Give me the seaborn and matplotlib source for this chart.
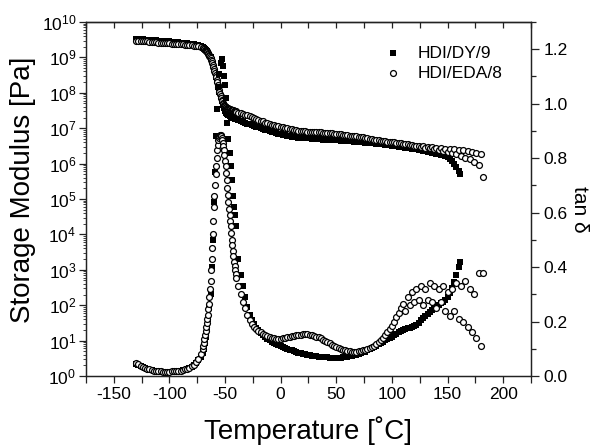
import numpy as np
import matplotlib
matplotlib.use("Agg")
import matplotlib.pyplot as plt
from matplotlib.ticker import MultipleLocator, LogLocator, NullFormatter, FormatStrFormatter
import seaborn as sns

# ---------------------------------------------------------------------------
# DMA data: temperature [°C], log10 of storage modulus [Pa] and tan delta
# ---------------------------------------------------------------------------

# HDI/DY/9 (filled squares)
temp_dy = [
    -130, -128, -126, -124, -122, -120, -118, -116, -114, -112,
    -110, -108, -106, -104, -102, -100, -98, -96, -94, -92,
    -90, -88, -86, -84, -82, -80, -78, -76, -74, -72,
    -70, -69, -68, -67, -66, -65, -64, -63, -62, -61,
    -60, -59, -58, -57, -56, -55, -54, -53, -52, -51,
    -50, -49, -48, -47, -46, -45, -44, -43, -42, -41,
    -40,
    -38, -36, -34, -32, -30, -28, -26, -24, -22, -20,
    -18, -16, -14, -12, -10, -8, -6, -4, -2, 0,
    2, 4, 6, 8, 10, 12, 14, 16, 18, 20,
    22, 24, 26, 28, 30, 32, 34, 36, 38, 40,
    42, 44, 46, 48, 50, 52, 54, 56, 58, 60,
    62, 64, 66, 68, 70, 72, 74, 76, 78, 80,
    82, 84, 86, 88, 90, 92, 94, 96, 98, 100,
    102, 104, 106, 108, 110, 112, 114, 116, 118, 120,
    122, 124, 126, 128, 130, 132, 134, 136, 138, 140,
    142, 144, 146, 148, 150, 152, 154, 156, 158, 160,
    161,
]
log_modulus_dy = [
    9.52, 9.52, 9.51, 9.51, 9.50, 9.50, 9.49, 9.49, 9.48, 9.48,
    9.47, 9.47, 9.46, 9.46, 9.45, 9.45, 9.44, 9.44, 9.43, 9.43,
    9.42, 9.41, 9.41, 9.40, 9.39, 9.38, 9.37, 9.35, 9.34, 9.32,
    9.29, 9.27, 9.25, 9.22, 9.18, 9.13, 9.07, 9.00, 8.92, 8.82,
    8.71, 8.59, 8.46, 8.32, 8.17, 8.02, 7.88, 7.76, 7.65, 7.56,
    7.49, 7.44, 7.40, 7.37, 7.35, 7.33, 7.31, 7.29, 7.28, 7.27,
    7.26,
    7.23, 7.21, 7.18, 7.16, 7.13, 7.11, 7.09, 7.06, 7.04, 7.02,
    7.00, 6.98, 6.96, 6.94, 6.92, 6.90, 6.88, 6.86, 6.85, 6.83,
    6.82, 6.80, 6.79, 6.77, 6.76, 6.75, 6.74, 6.73, 6.73, 6.72,
    6.72, 6.71, 6.71, 6.70, 6.70, 6.70, 6.69, 6.69, 6.68, 6.68,
    6.68, 6.67, 6.67, 6.66, 6.66, 6.66, 6.65, 6.65, 6.64, 6.64,
    6.63, 6.63, 6.62, 6.62, 6.61, 6.60, 6.60, 6.59, 6.59, 6.58,
    6.57, 6.57, 6.56, 6.55, 6.55, 6.54, 6.53, 6.52, 6.52, 6.51,
    6.50, 6.49, 6.48, 6.47, 6.46, 6.45, 6.44, 6.43, 6.42, 6.41,
    6.40, 6.39, 6.38, 6.36, 6.35, 6.34, 6.32, 6.31, 6.29, 6.28,
    6.26, 6.25, 6.23, 6.21, 6.18, 6.14, 6.08, 6.00, 5.90, 5.78,
    5.72,
]
tan_delta_dy = [
    0.045, 0.040, 0.036, 0.032, 0.028, 0.025, 0.023, 0.021, 0.019, 0.018,
    0.017, 0.016, 0.015, 0.015, 0.015, 0.015, 0.016, 0.016, 0.017, 0.018,
    0.019, 0.021, 0.023, 0.025, 0.028, 0.033, 0.039, 0.047, 0.057, 0.070,
    0.085, 0.100, 0.120, 0.145, 0.175, 0.210, 0.250, 0.300, 0.400, 0.500,
    0.640, 0.750, 0.880, 0.980, 1.060, 1.110, 1.150, 1.165, 1.140, 1.100,
    1.070, 1.020, 0.930, 0.870, 0.820, 0.770, 0.720, 0.660, 0.620, 0.590,
    0.550,
    0.430, 0.370, 0.330, 0.290, 0.255, 0.225, 0.205, 0.190, 0.178, 0.168,
    0.158, 0.150, 0.143, 0.137, 0.131, 0.126, 0.121, 0.117, 0.113, 0.109,
    0.106, 0.103, 0.100, 0.097, 0.094, 0.091, 0.088, 0.086, 0.084, 0.082,
    0.080, 0.078, 0.076, 0.075, 0.073, 0.072, 0.071, 0.070, 0.069, 0.068,
    0.068, 0.067, 0.067, 0.067, 0.067, 0.067, 0.067, 0.068, 0.069, 0.070,
    0.072, 0.074, 0.076, 0.078, 0.081, 0.084, 0.087, 0.090, 0.094, 0.098,
    0.102, 0.106, 0.111, 0.116, 0.121, 0.126, 0.131, 0.136, 0.141, 0.145,
    0.150, 0.155, 0.160, 0.165, 0.169, 0.173, 0.176, 0.178, 0.180, 0.182,
    0.188, 0.196, 0.204, 0.212, 0.220, 0.228, 0.236, 0.244, 0.250, 0.256,
    0.262, 0.267, 0.272, 0.280, 0.290, 0.305, 0.325, 0.345, 0.370, 0.400,
    0.420,
]

# HDI/EDA/8 (open circles)
temp_eda = [
    -130, -128, -126, -124, -122, -120, -118, -116, -114, -112,
    -110, -108, -106, -104, -102, -100, -98, -96, -94, -92,
    -90, -88, -86, -84, -82, -80, -78, -76, -74, -72,
    -70, -69.5, -69, -68.5, -68, -67.5, -67, -66.5, -66, -65.5,
    -65, -64.5, -64, -63.5, -63, -62.5, -62, -61.5, -61, -60.5,
    -60, -59.5, -59, -58.5, -58, -57.5, -57, -56.5, -56, -55.5,
    -55, -54.5, -54, -53.5, -53, -52.5, -52, -51.5, -51, -50.5,
    -50, -49.5, -49, -48.5, -48, -47.5, -47, -46.5, -46, -45.5,
    -45, -44.5, -44, -43.5, -43, -42.5, -42, -41.5, -41, -40.5,
    -40,
    -38, -36, -34, -32, -30, -28, -26, -24, -22, -20,
    -18, -16, -14, -12, -10, -8, -6, -4, -2, 0,
    2, 4, 6, 8, 10, 12, 14, 16, 18, 20,
    22, 24, 26, 28, 30, 32, 34, 36, 38, 40,
    42, 44, 46, 48, 50, 52, 54, 56, 58, 60,
    62, 64, 66, 68, 70, 72, 74, 76, 78, 80,
    82, 84, 86, 88, 90, 92, 94, 96, 98, 100,
    102, 104, 106, 108, 110, 112, 114, 116, 118, 120,
    122, 124, 126, 128, 130, 132, 134, 136, 138, 140,
    142, 144, 146, 148, 150, 152, 154, 156, 158, 160,
    162, 164, 166, 168, 170, 172, 174, 176, 178, 180,
    182,
]
log_modulus_eda = [
    9.47, 9.47, 9.46, 9.46, 9.45, 9.45, 9.44, 9.44, 9.43, 9.43,
    9.42, 9.42, 9.41, 9.41, 9.40, 9.40, 9.39, 9.39, 9.38, 9.38,
    9.37, 9.37, 9.36, 9.36, 9.35, 9.34, 9.33, 9.32, 9.31, 9.29,
    9.27, 9.26, 9.25, 9.24, 9.22, 9.21, 9.19, 9.17, 9.15, 9.13,
    9.10, 9.07, 9.04, 9.01, 8.97, 8.93, 8.89, 8.84, 8.79, 8.74,
    8.68, 8.62, 8.56, 8.50, 8.44, 8.37, 8.30, 8.23, 8.16, 8.09,
    8.02, 7.96, 7.90, 7.85, 7.80, 7.76, 7.72, 7.69, 7.66, 7.64,
    7.62, 7.60, 7.59, 7.58, 7.57, 7.56, 7.55, 7.54, 7.54, 7.53,
    7.52, 7.52, 7.51, 7.51, 7.50, 7.50, 7.49, 7.49, 7.48, 7.48,
    7.47,
    7.44, 7.42, 7.40, 7.38, 7.36, 7.34, 7.31, 7.29, 7.26, 7.24,
    7.21, 7.19, 7.16, 7.14, 7.12, 7.10, 7.08, 7.07, 7.05, 7.04,
    7.03, 7.01, 7.00, 6.99, 6.98, 6.96, 6.95, 6.93, 6.92, 6.91,
    6.91, 6.90, 6.90, 6.89, 6.89, 6.88, 6.88, 6.88, 6.87, 6.87,
    6.87, 6.86, 6.86, 6.85, 6.84, 6.84, 6.83, 6.82, 6.81, 6.80,
    6.79, 6.78, 6.77, 6.77, 6.76, 6.75, 6.74, 6.73, 6.71, 6.70,
    6.69, 6.68, 6.67, 6.66, 6.65, 6.64, 6.63, 6.62, 6.61, 6.60,
    6.60, 6.59, 6.58, 6.57, 6.56, 6.55, 6.54, 6.53, 6.52, 6.51,
    6.49, 6.51, 6.47, 6.49, 6.45, 6.48, 6.43, 6.46, 6.41, 6.44,
    6.39, 6.43, 6.36, 6.42, 6.33, 6.41, 6.30, 6.40, 6.26, 6.39,
    6.22, 6.38, 6.17, 6.36, 6.12, 6.34, 6.05, 6.31, 5.96, 6.27,
    5.62,
]
tan_delta_eda = [
    0.048, 0.043, 0.038, 0.034, 0.030, 0.027, 0.024, 0.022, 0.020, 0.019,
    0.018, 0.017, 0.016, 0.016, 0.016, 0.016, 0.017, 0.017, 0.018, 0.019,
    0.020, 0.022, 0.024, 0.026, 0.029, 0.035, 0.042, 0.052, 0.064, 0.080,
    0.100, 0.110, 0.120, 0.135, 0.150, 0.165, 0.180, 0.195, 0.210, 0.225,
    0.245, 0.265, 0.290, 0.320, 0.350, 0.390, 0.430, 0.470, 0.520, 0.570,
    0.620, 0.660, 0.700, 0.740, 0.770, 0.800, 0.830, 0.850, 0.865, 0.875,
    0.880, 0.885, 0.885, 0.880, 0.875, 0.865, 0.855, 0.845, 0.830, 0.810,
    0.790, 0.770, 0.745, 0.720, 0.690, 0.665, 0.640, 0.615, 0.590, 0.570,
    0.550, 0.525, 0.500, 0.480, 0.460, 0.440, 0.420, 0.405, 0.390, 0.375,
    0.360,
    0.330, 0.300, 0.270, 0.250, 0.225, 0.205, 0.190, 0.180, 0.172, 0.165,
    0.160, 0.155, 0.150, 0.146, 0.143, 0.140, 0.138, 0.137, 0.137, 0.137,
    0.138, 0.140, 0.142, 0.144, 0.146, 0.148, 0.150, 0.151, 0.152, 0.153,
    0.153, 0.153, 0.152, 0.150, 0.148, 0.145, 0.142, 0.138, 0.134, 0.130,
    0.125, 0.120, 0.115, 0.110, 0.106, 0.102, 0.099, 0.096, 0.094, 0.092,
    0.091, 0.090, 0.090, 0.090, 0.091, 0.092, 0.094, 0.096, 0.099, 0.103,
    0.107, 0.112, 0.118, 0.125, 0.132, 0.140, 0.150, 0.160, 0.172, 0.185,
    0.200, 0.215, 0.230, 0.250, 0.265, 0.240, 0.290, 0.260, 0.310, 0.270,
    0.320, 0.280, 0.330, 0.260, 0.320, 0.280, 0.340, 0.270, 0.330, 0.250,
    0.320, 0.270, 0.330, 0.240, 0.310, 0.220, 0.320, 0.240, 0.340, 0.210,
    0.330, 0.200, 0.350, 0.180, 0.320, 0.160, 0.300, 0.140, 0.380, 0.110,
    0.380,
]

series_labels = ["HDI/DY/9", "HDI/EDA/8"]

# ---------------------------------------------------------------------------
# Style
# ---------------------------------------------------------------------------
sns.set_style("ticks")
plt.rcParams["font.family"] = ["Liberation Sans", "DejaVu Sans"]
plt.rcParams["mathtext.fontset"] = "custom"
plt.rcParams["mathtext.rm"] = "Liberation Sans"
plt.rcParams["mathtext.it"] = "Liberation Sans:italic"
plt.rcParams["mathtext.bf"] = "Liberation Sans:bold"
plt.rcParams["axes.unicode_minus"] = False
plt.rcParams["text.color"] = "black"
plt.rcParams["axes.labelcolor"] = "black"
plt.rcParams["xtick.labelcolor"] = "black"
plt.rcParams["ytick.labelcolor"] = "black"

axis_color = "#222222"
tick_size = 12.5

fig = plt.figure(figsize=(6.03, 4.47), dpi=100)
ax = fig.add_axes([0.1426, 0.1588, 0.738, 0.792])
ax2 = ax.twinx()

square_kw = dict(marker="s", s=14, color="black", linewidth=0, legend=False)
circle_kw = dict(marker="o", s=18, color="white", edgecolor="black",
                 linewidth=0.9, legend=False)

# storage modulus on the left (log) axis
sns.scatterplot(x=temp_dy, y=10 ** np.array(log_modulus_dy), ax=ax, **square_kw)
sns.scatterplot(x=temp_eda, y=10 ** np.array(log_modulus_eda), ax=ax, **circle_kw)

# tan delta on the right axis
sns.scatterplot(x=temp_dy, y=tan_delta_dy, ax=ax2, **square_kw)
sns.scatterplot(x=temp_eda, y=tan_delta_eda, ax=ax2, **circle_kw)

# x axis
ax.set_xlim(-175, 225)
ax.xaxis.set_major_locator(MultipleLocator(50))
ax.xaxis.set_minor_locator(MultipleLocator(25))
ax.tick_params(axis="x", which="both", direction="out", length=5, width=0.9,
               color=axis_color, labelsize=tick_size, labelcolor="black", pad=3)

# top ticks pointing inward
top = ax.secondary_xaxis("top")
top.xaxis.set_major_locator(MultipleLocator(25))
top.xaxis.set_major_formatter(NullFormatter())
top.tick_params(axis="x", direction="in", length=4, width=0.9, color=axis_color)
top.spines["top"].set_color(axis_color)
top.spines["top"].set_linewidth(0.9)

# left log axis
ax.set_yscale("log")
ax.set_ylim(1, 1e10)
ax.yaxis.set_major_locator(LogLocator(base=10, numticks=20))
ax.yaxis.set_minor_locator(LogLocator(base=10, subs=np.arange(2, 10), numticks=20))
ax.yaxis.set_minor_formatter(NullFormatter())
ax.tick_params(axis="y", which="major", direction="out", length=5, width=0.9,
               color=axis_color, labelsize=tick_size, labelcolor="black", pad=2)
ax.tick_params(axis="y", which="minor", direction="out", length=2.5, width=0.6,
               color=axis_color)

# right tan delta axis
ax2.set_ylim(0, 1.3)
ax2.yaxis.set_major_locator(MultipleLocator(0.2))
ax2.yaxis.set_minor_locator(MultipleLocator(0.1))
ax2.yaxis.set_major_formatter(FormatStrFormatter("%.1f"))
ax2.tick_params(axis="y", which="major", direction="out", length=6, width=0.9,
                color=axis_color, labelsize=tick_size, labelcolor="black", pad=3)
ax2.tick_params(axis="y", which="minor", direction="out", length=3.5, width=0.9,
                color=axis_color)

for a in (ax, ax2):
    for sp in a.spines.values():
        sp.set_color(axis_color)
        sp.set_linewidth(0.9)

# axis titles
ax.set_xlabel("Temperature [˚C]", fontsize=20, va="center", ha="center")
ax.xaxis.set_label_coords(0.5, -0.154)
ax.set_ylabel("Storage Modulus [Pa]", fontsize=20, va="center", ha="center",
              rotation=90, rotation_mode="anchor")
ax.yaxis.set_label_coords(-0.1416, 0.525)
ax2.set_ylabel("tan δ", fontsize=15, va="center", ha="center",
               rotation=270, rotation_mode="anchor")
ax2.yaxis.set_label_coords(1.108, 0.472)

# legend
handles = [ax.collections[0], ax.collections[1]]
ax2.legend(handles, series_labels, loc="upper left", bbox_to_anchor=(0.64, 0.958),
           frameon=False, fontsize=tick_size, borderpad=0, handlelength=1.6,
           handletextpad=0.6, labelspacing=0.3, scatterpoints=1)

fig.savefig("out.png", dpi=100)
